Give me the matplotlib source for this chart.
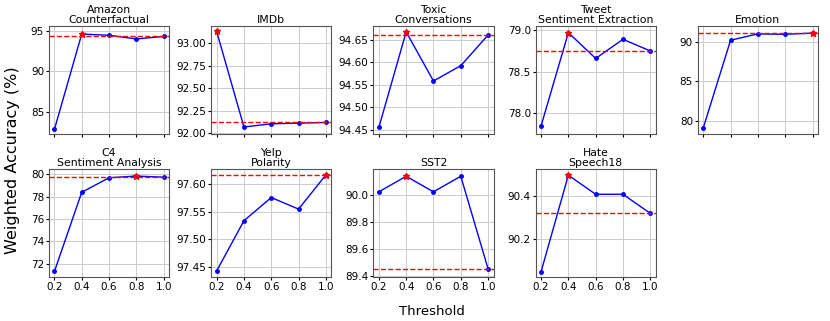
import matplotlib
matplotlib.use('Agg')
import matplotlib.pyplot as plt
import numpy as np

thresholds = [0.2, 0.4, 0.6, 0.8, 1.0]

titles = [
    'Amazon\nCounterfactual', 'IMDb', 'Toxic\nConversations',
    'Tweet\nSentiment Extraction', 'Emotion',
    'C4\nSentiment Analysis', 'Yelp\nPolarity', 'SST2', 'Hate\nSpeech18',
]

amazon = [82.8, 94.6, 94.45, 94.0, 94.3]
imdb = [93.13, 92.07, 92.105, 92.113, 92.12]
toxic = [94.455, 94.667, 94.558, 94.592, 94.66]
tweet = [77.85, 78.97, 78.66, 78.89, 78.75]
emotion = [79.1, 90.2, 91.0, 90.95, 91.1]
c4 = [71.3, 78.4, 79.7, 79.85, 79.75]
yelp = [97.443, 97.534, 97.576, 97.555, 97.617]
sst2 = [90.02, 90.135, 90.02, 90.135, 89.45]
hate = [90.045, 90.50, 90.41, 90.41, 90.32]

series = [amazon, imdb, toxic, tweet, emotion, c4, yelp, sst2, hate]

yticks = [
    [85, 90, 95],
    [92.00, 92.25, 92.50, 92.75, 93.00],
    [94.45, 94.50, 94.55, 94.60, 94.65],
    [78.0, 78.5, 79.0],
    [80, 85, 90],
    [72, 74, 76, 78, 80],
    [97.45, 97.50, 97.55, 97.60],
    [89.4, 89.6, 89.8, 90.0],
    [90.2, 90.4],
]
ytick_fmt = ['%d', '%.2f', '%.2f', '%.1f', '%d', '%d', '%.2f', '%.1f', '%.1f']

fig, axes = plt.subplots(2, 5, figsize=(8.3, 3.21), dpi=100, sharex=True)
fig.subplots_adjust(left=0.059, right=0.9855, top=0.919, bottom=0.137,
                    wspace=0.35, hspace=0.32)

for i, ax in enumerate(axes.flat):
    if i >= len(series):
        ax.set_visible(False)
        continue
    vals = series[i]
    ax.plot(thresholds, vals, color='blue', marker='o', markersize=2.5, linewidth=1)
    best = int(np.argmax(vals))
    ax.plot(thresholds[best], vals[best], color='red', marker='*', markersize=5,
            linestyle='none')
    ax.axhline(vals[-1], color='red', linestyle='--', linewidth=1)
    ax.set_title(titles[i], fontsize=7.8, pad=2, linespacing=1.0)
    ax.set_yticks(yticks[i])
    ax.set_yticklabels([ytick_fmt[i] % t for t in yticks[i]])
    ax.set_xticks(thresholds)
    ax.set_xticklabels(['0.2', '0.4', '0.6', '0.8', '1.0'])
    ax.tick_params(labelsize=7.5, length=2, pad=1.5)
    ax.grid(True, color='#cccccc', linewidth=0.7)
    for s in ax.spines.values():
        s.set_color('#555555')
        s.set_linewidth(0.8)

axes[0, 0].set_ylim(82.2, 95.6)
axes[0, 1].set_ylim(91.99, 93.19)
axes[0, 2].set_ylim(94.44, 94.68)
axes[0, 3].set_ylim(77.75, 79.05)
axes[0, 4].set_ylim(78.3, 92.0)
axes[1, 0].set_ylim(70.8, 80.5)
axes[1, 1].set_ylim(97.432, 97.628)
axes[1, 2].set_ylim(89.39, 90.19)
axes[1, 3].set_ylim(90.02, 90.53)

fig.text(0.0145, 0.50, 'Weighted Accuracy (%)', rotation=90, va='center',
         ha='center', fontsize=11.5)
fig.text(0.52, 0.03, 'Threshold', ha='center', va='center', fontsize=9.5)

plt.savefig('out.png', dpi=100)
plt.close()
